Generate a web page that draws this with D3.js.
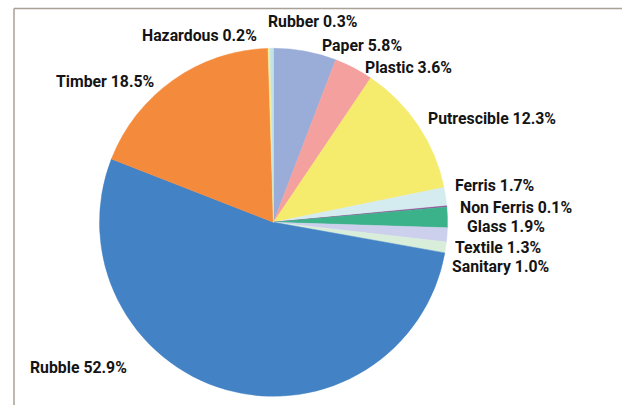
<!DOCTYPE html>
<html>
<head>
<meta charset="utf-8">
<script src="https://cdn.jsdelivr.net/npm/d3@7/dist/d3.min.js"></script>
<style>
  html, body { margin: 0; padding: 0; background: #ffffff; }
  svg { display: block; }
  .lbl { font-family: Roboto, "Open Sans", sans-serif; font-weight: 700; font-size: 15.8px; fill: #141414; }
</style>
</head>
<body>
<svg id="chart" width="622" height="405"></svg>
<script>
// Waste composition, listed clockwise from 12 o'clock
const categories = ["Paper", "Plastic", "Putrescible", "Ferris", "Non Ferris", "Glass",
                    "Textile", "Sanitary", "Rubble", "Timber", "Hazardous", "Rubber"];
const shares = [5.8, 3.6, 12.3, 1.7, 0.1, 1.9, 1.3, 1.0, 52.9, 18.5, 0.2, 0.3];
const colours = ["#9aadd9", "#f4a09f", "#f5eb6d", "#d4ecef", "#9a4c9c", "#3cb28a",
                 "#cdd0ec", "#d8eedb", "#4382c4", "#f48b3c", "#f2ee9b", "#c0e3ea"];
// Label anchor points (left edge, baseline)
const labelX = [322, 365, 428, 455, 460, 467, 455, 452, 30, 56, 142, 268];
const labelY = [51, 73, 124, 191, 213, 232, 253, 272, 373, 87, 41, 27];

const svg = d3.select("#chart");
const cx = 273.5, cy = 222.3, radius = 174;

// Frame lines along the top and left
svg.append("line").attr("x1", 14).attr("y1", 8.5).attr("x2", 622).attr("y2", 8.5)
  .attr("stroke", "#a9a096").attr("stroke-width", 1.5);
svg.append("line").attr("x1", 14).attr("y1", 8.5).attr("x2", 14).attr("y2", 405)
  .attr("stroke", "#a9a096").attr("stroke-width", 1.5);

const data = categories.map((c, i) => ({ name: c, value: shares[i], colour: colours[i], lx: labelX[i], ly: labelY[i] }));

const pie = d3.pie().value(d => d.value).sort(null);
const arc = d3.arc().innerRadius(0).outerRadius(radius);

const g = svg.append("g").attr("transform", `translate(${cx},${cy})`);
g.selectAll("path")
  .data(pie(data))
  .join("path")
  .attr("d", arc)
  .attr("fill", d => d.data.colour)
  .attr("stroke", d => d.data.colour)
  .attr("stroke-width", 0.5);

svg.selectAll("text.lbl")
  .data(data)
  .join("text")
  .attr("class", "lbl")
  .attr("x", d => d.lx)
  .attr("y", d => d.ly)
  .text(d => `${d.name} ${d.value.toFixed(1)}%`);
</script>
</body>
</html>
